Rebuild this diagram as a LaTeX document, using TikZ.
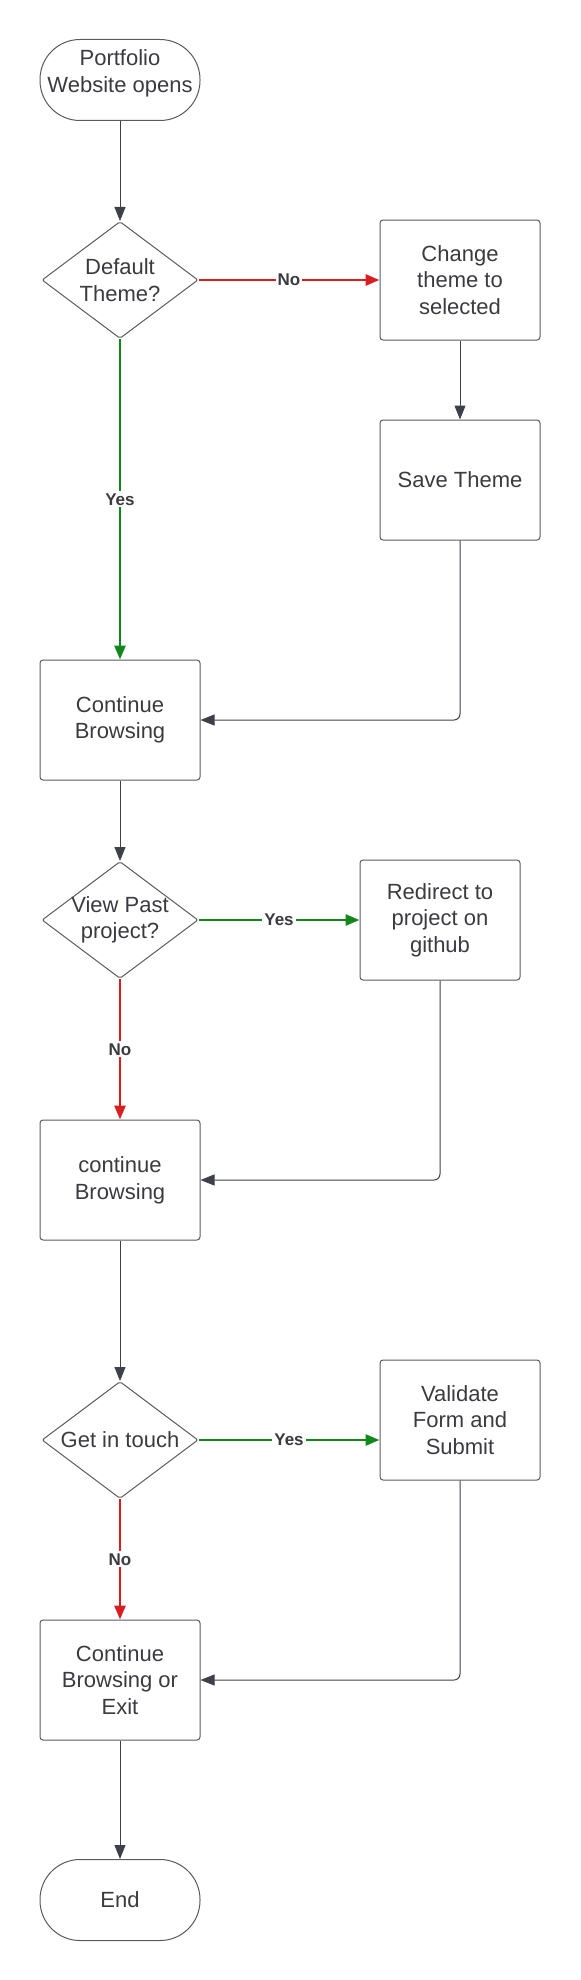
\documentclass[tikz,border=0pt]{standalone}
\usepackage{fontspec}
\setmainfont{Liberation Sans}
\usetikzlibrary{arrows.meta, shapes.geometric}
\definecolor{txtgray}{HTML}{3A3B40}
\definecolor{linegray}{HTML}{3D4049}
\definecolor{boxgray}{HTML}{5A5A5A}
\definecolor{yesgreen}{HTML}{12871A}
\definecolor{nored}{HTML}{D81E1E}

\begin{document}
\begin{tikzpicture}[
    x=0.5pt, y=-0.5pt, % 按像素坐标作图(y向下)
    >={Triangle[length=7pt, width=5.5pt]}, % 实心三角箭头
    box/.style={draw=boxgray, line width=0.5pt, rounded corners=1.5pt,
        minimum width=80pt, minimum height=60pt, align=center,
        text=txtgray, font=\fontsize{11}{13.3}\selectfont}, % 处理框
    term/.style={box, rounded corners=20pt, minimum height=40.5pt}, % 起止框
    decide/.style={diamond, draw=boxgray, line width=0.5pt, rounded corners=1pt,
        minimum width=78pt, minimum height=58.5pt, inner sep=-4pt, align=center,
        text=txtgray, font=\fontsize{11}{13.3}\selectfont}, % 判断框
    flow/.style={->, draw=linegray, line width=0.5pt, rounded corners=3pt}, % 普通连线
    yesarrow/.style={->, yesgreen, line width=1.4pt}, % 是:绿色
    noarrow/.style={->, nored, line width=1.4pt},     % 否:红色
    tag/.style={fill=white, inner sep=1pt, text=txtgray,
        font=\bfseries\fontsize{8.5}{10}\selectfont} % 分支标注
]
    \useasboundingbox (0,0) rectangle (580,1980);

    % 1. 节点
    \node[term, text depth=9pt] (start) at (120,80) {Portfolio\\Website opens};
    \node[decide] (theme)  at (120,280)  {Default\\Theme?};
    \node[box]    (change) at (460,280)  {Change\\theme to\\selected};
    \node[box]    (save)   at (460,480)  {Save Theme};
    \node[box]    (cont)   at (120,720)  {Continue\\Browsing};
    \node[decide] (past)   at (120,920)  {View Past\\project?};
    \node[box]    (redir)  at (440,920)  {Redirect to\\project on\\github};
    \node[box]    (cont2)  at (120,1180) {continue\\Browsing};
    \node[decide] (touch)  at (120,1440) {Get in touch};
    \node[box]    (valid)  at (460,1420) {Validate\\Form and\\Submit};
    \node[box]    (exit)   at (120,1680) {Continue\\Browsing or\\Exit};
    \node[term]   (end)    at (120,1900) {End};

    % 2. 连线
    \draw[flow] (start) -- (theme);
    \draw[noarrow] (theme) -- node[tag] {No} (change);
    \draw[yesarrow] (theme) -- node[tag] {Yes} (cont);
    \draw[flow] (change) -- (save);
    \draw[flow] (save.south) |- (cont.east);

    \draw[flow] (cont) -- (past);
    \draw[yesarrow] (past) -- node[tag] {Yes} (redir);
    \draw[noarrow] (past) -- node[tag] {No} (cont2);
    \draw[flow] (redir.south) |- (cont2.east);

    \draw[flow] (cont2) -- (touch);
    \draw[yesarrow] (touch.east) -- node[tag] {Yes} (touch.east -| valid.west);
    \draw[noarrow] (touch) -- node[tag] {No} (exit);
    \draw[flow] (valid.south) |- (exit.east);
    \draw[flow] (exit) -- (end);
\end{tikzpicture}
\end{document}
